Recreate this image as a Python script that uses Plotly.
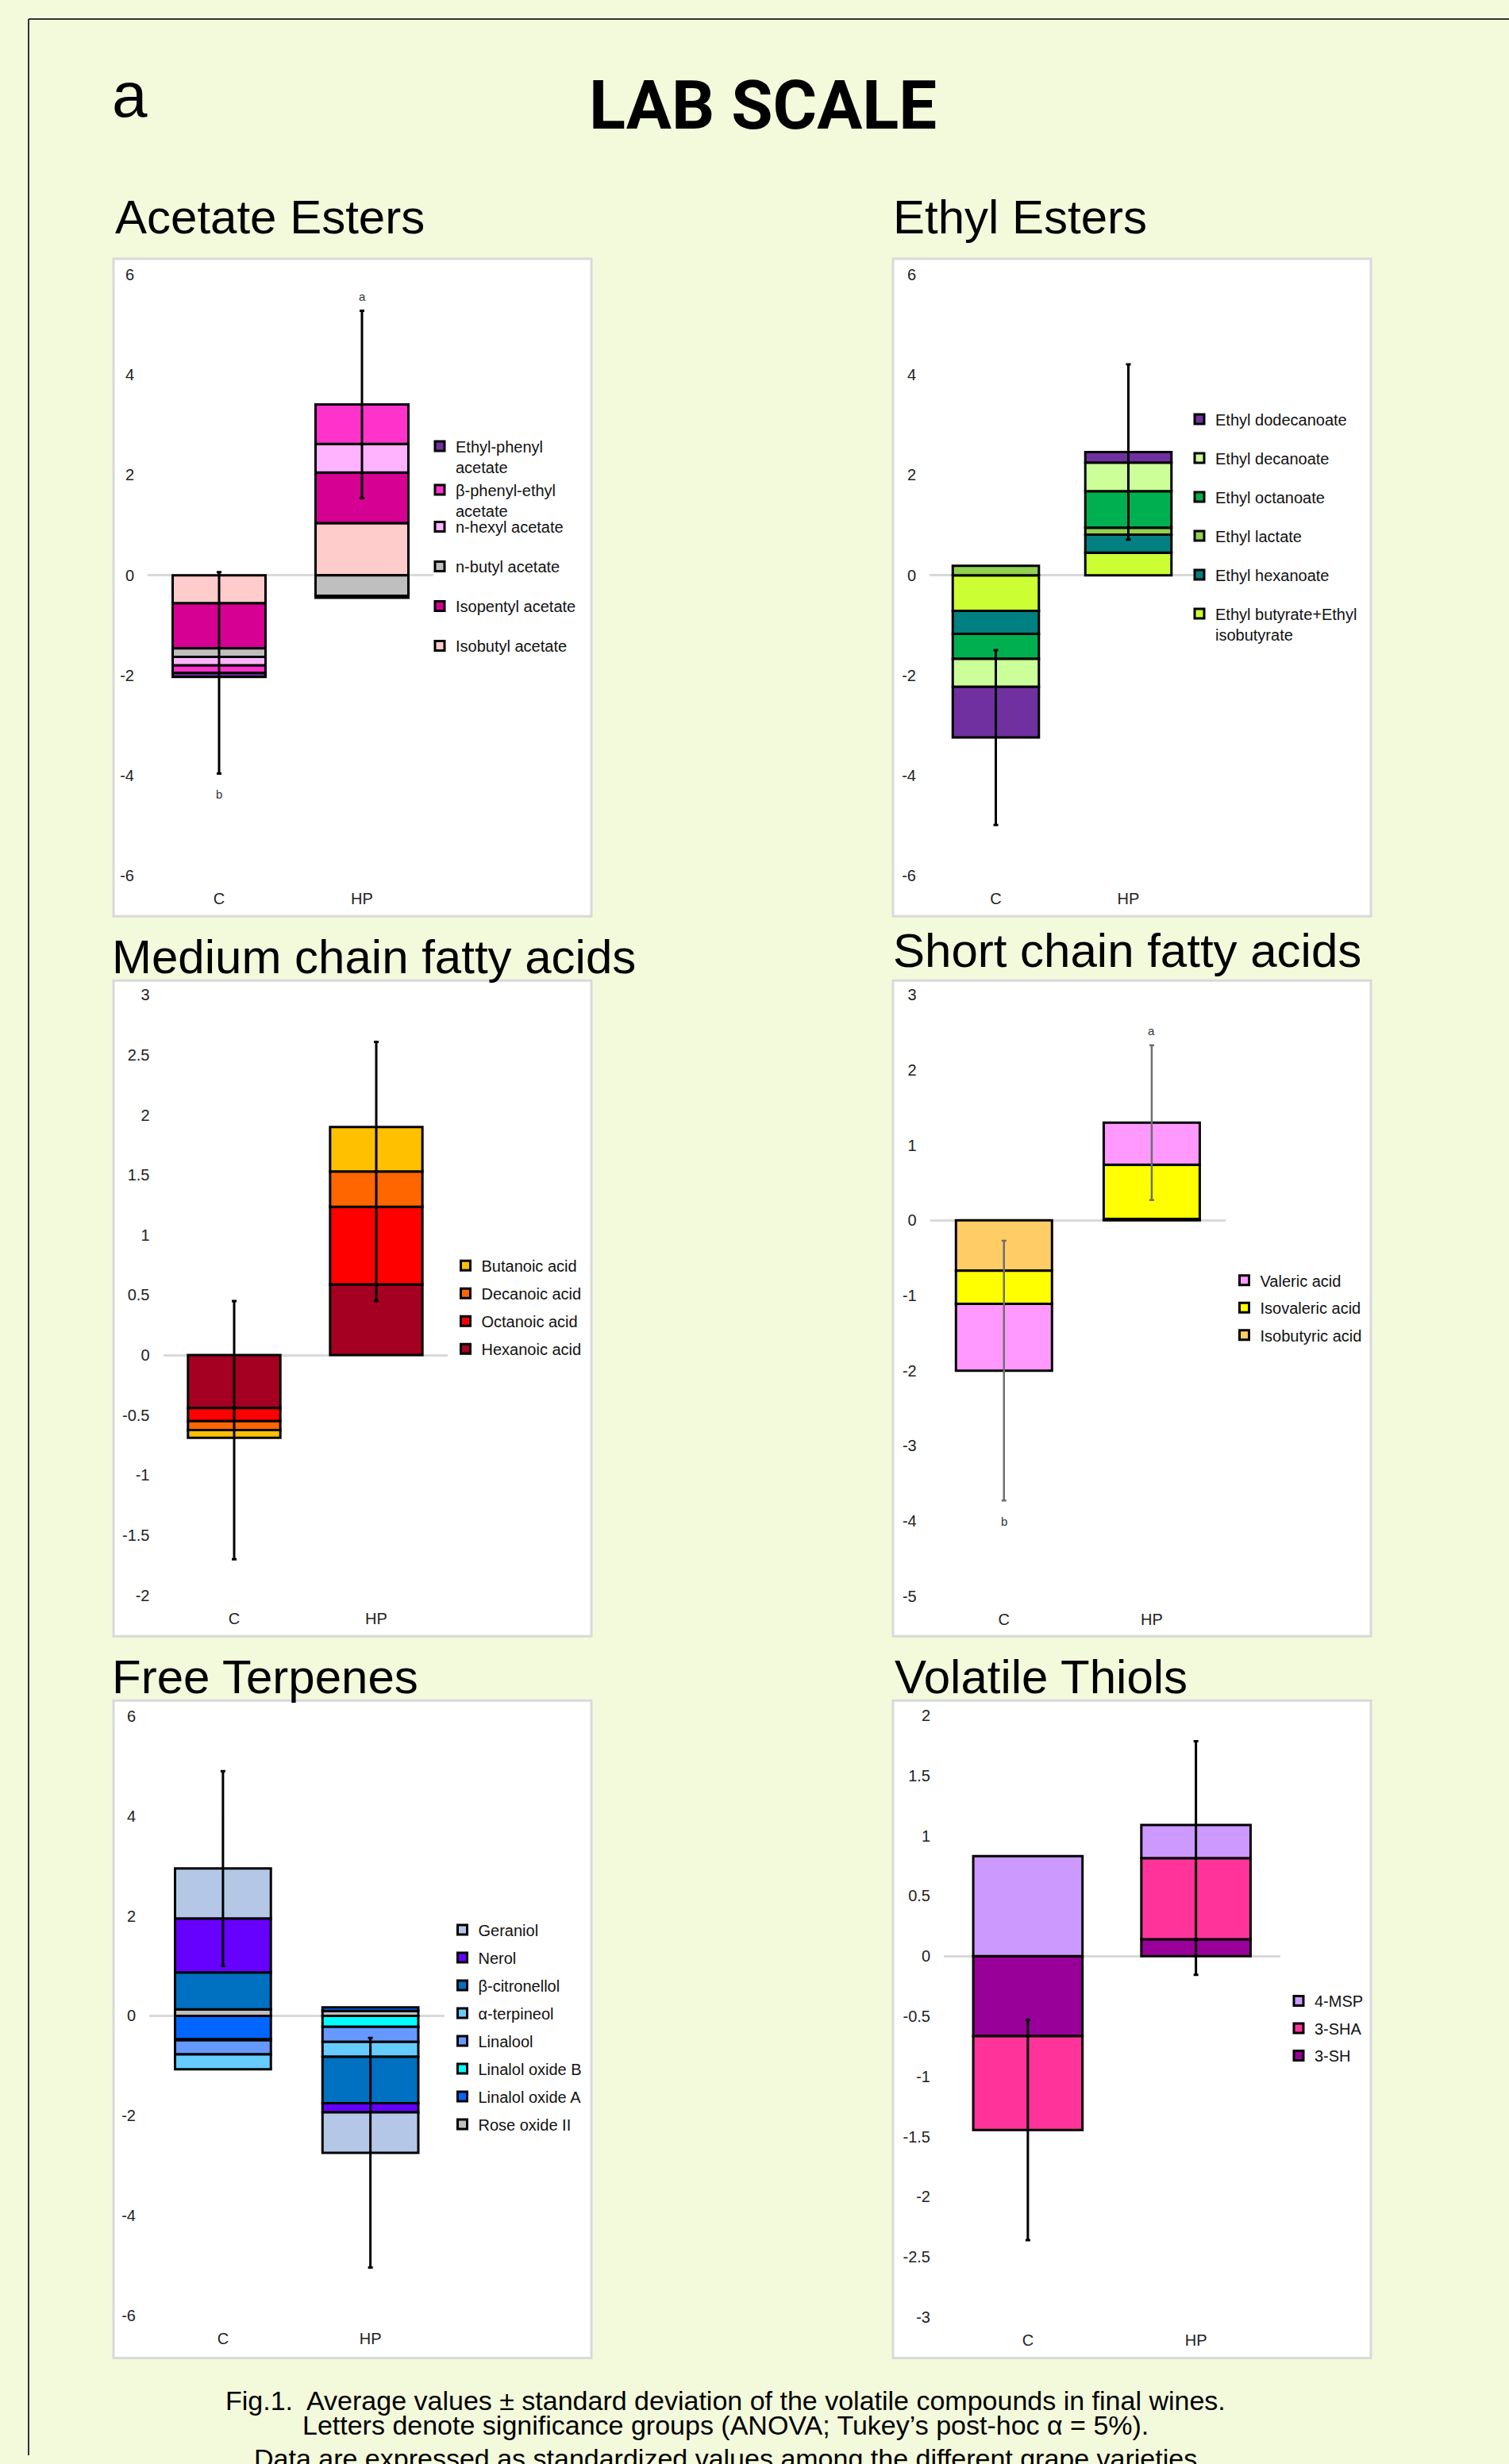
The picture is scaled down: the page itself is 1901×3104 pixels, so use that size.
import plotly.graph_objects as go

W, H = 1901, 3104
# the photographed page is squeezed vertically a little: observed_y = A * page_y + B
A, B = 0.99274, 12.0

categories = ["C", "HP"]

# ---------------- data (stacking order = bottom-up, legend shows reversed) ----------------
acetate_names = ["Isobutyl acetate", "Isopentyl acetate", "n-butyl acetate", "n-hexyl acetate",
                 "β-phenyl-ethyl<br>acetate", "Ethyl-phenyl<br>acetate"]
acetate_C = [-0.56, -0.90, -0.17, -0.17, -0.15, -0.08]
acetate_HP = [1.04, 1.01, -0.41, 0.57, 0.79, -0.04]
acetate_sd = [2.01, 1.87]
acetate_letters = ["b", "a"]

ethyl_names = ["Ethyl butyrate+Ethyl<br>isobutyrate", "Ethyl hexanoate", "Ethyl lactate",
               "Ethyl octanoate", "Ethyl decanoate", "Ethyl dodecanoate"]
ethyl_C = [-0.71, -0.46, 0.19, -0.50, -0.56, -1.01]
ethyl_HP = [0.45, 0.36, 0.14, 0.73, 0.57, 0.21]
ethyl_sd = [1.745, 1.75]

mcfa_names = ["Hexanoic acid", "Octanoic acid", "Decanoic acid", "Butanoic acid"]
mcfa_C = [-0.44, -0.11, -0.075, -0.064]
mcfa_HP = [0.59, 0.645, 0.295, 0.37]
mcfa_sd = [1.075, 1.08]

scfa_names = ["Isobutyric acid", "Isovaleric acid", "Valeric acid"]
scfa_C = [-0.67, -0.44, -0.89]
scfa_HP = [0.02, 0.72, 0.56]
scfa_sd = [1.73, 1.03]
scfa_letters = ["b", "a"]

terp_names = ["Rose oxide II", "Linalol oxide A", "Linalol oxide B", "Linalool",
              "α-terpineol", "β-citronellol", "Nerol", "Geraniol"]
terp_C = [0.13, -0.47, -0.02, -0.28, -0.30, 0.74, 1.08, 1.00]
terp_HP = [0.10, 0.07, -0.22, -0.30, -0.30, -0.93, -0.18, -0.81]
terp_sd = [1.95, 2.30]

thiol_names = ["3-SH", "3-SHA", "4-MSP"]
thiol_C = [-0.665, -0.78, 0.83]
thiol_HP = [0.14, 0.675, 0.275]
thiol_sd = [0.915, 0.97]

# ---------------- styles ----------------
acetate_colors = ["#FFCCCC", "#D60093", "#BFBFBF", "#FFB3FF", "#FF33CC", "#7030A0"]
ethyl_colors = ["#CCFF33", "#008080", "#92D050", "#00B050", "#CCFF99", "#7030A0"]
mcfa_colors = ["#A50021", "#FF0000", "#FF6600", "#FFC000"]
scfa_colors = ["#FFCC66", "#FFFF00", "#FF99FF"]
terp_colors = ["#BFBFBF", "#0066FF", "#00FFFF", "#6699FF", "#66CCFF", "#0070C0", "#6600FF", "#B4C7E7"]
thiol_colors = ["#990099", "#FF3399", "#CC99FF"]

FONT = "Liberation Sans, Arial, Helvetica, sans-serif"
TXT = "#222222"
BG = "#F3F9DB"


def px_x(p):
    return p / W


def px_y(p):
    return 1 - ((p - B) / A) / H


panels = [
    dict(title="Acetate Esters", title_xy=(143, 274), names=acetate_names, C=acetate_C, HP=acetate_HP,
         colors=acetate_colors, sd=acetate_sd, err_idx=4, letters=acetate_letters, yr=(-6, 6), dt=2,
         xdom=(186, 546), ydom=(347, 1104), box=(143, 327, 745, 1155), errcolor="black", errw=3,
         legends=[(534, 543.5, 0, [4, 5]), (534, 645, 21, [0, 1, 2, 3])]),
    dict(title="Ethyl Esters", title_xy=(1123, 274), names=ethyl_names, C=ethyl_C, HP=ethyl_HP,
         colors=ethyl_colors, sd=ethyl_sd, err_idx=5, letters=None, yr=(-6, 6), dt=2,
         xdom=(1171, 1505), ydom=(347, 1104), box=(1125, 327, 1727, 1155), errcolor="black", errw=3,
         legends=[(1491, 509.5, 20, [0, 1, 2, 3, 4, 5])]),
    dict(title="Medium chain fatty acids", title_xy=(139, 1206), names=mcfa_names, C=mcfa_C, HP=mcfa_HP,
         colors=mcfa_colors, sd=mcfa_sd, err_idx=2, letters=None, yr=(-2, 3), dt=0.5,
         xdom=(205.5, 563.5), ydom=(1254.2, 2010.2), box=(143, 1236, 745, 2062), errcolor="black", errw=3,
         legends=[(566.5, 1575.5, 6, [0, 1, 2, 3])]),
    dict(title="Short chain fatty acids", title_xy=(1123, 1198), names=scfa_names, C=scfa_C, HP=scfa_HP,
         colors=scfa_colors, sd=scfa_sd, err_idx=2, letters=scfa_letters, yr=(-5, 3), dt=1,
         xdom=(1171.7, 1544), ydom=(1254.2, 2011.2), box=(1125, 1236, 1727, 2062), errcolor="#6E6E6E", errw=2.5,
         legends=[(1547.5, 1594, 5.5, [0, 1, 2])]),
    dict(title="Free Terpenes", title_xy=(139, 2113), names=terp_names, C=terp_C, HP=terp_HP,
         colors=terp_colors, sd=terp_sd, err_idx=7, letters=None, yr=(-6, 6), dt=2,
         xdom=(188, 559.5), ydom=(2162.6, 2917.5), box=(143, 2143, 745, 2971), errcolor="black", errw=3,
         legends=[(562.5, 2412, 6, [0, 1, 2, 3, 4, 5, 6, 7])]),
    dict(title="Volatile Thiols", title_xy=(1125, 2113), names=thiol_names, C=thiol_C, HP=thiol_HP,
         colors=thiol_colors, sd=thiol_sd, err_idx=1, letters=None, yr=(-3, 2), dt=0.5,
         xdom=(1189, 1612.5), ydom=(2161.6, 2919.6), box=(1125, 2143, 1727, 2971), errcolor="black", errw=3,
         legends=[(1616, 2501.5, 5.5, [0, 1, 2])]),
]

fig = go.Figure()
shapes = []
annotations = []
layout = {}

# pale green poster background with dark top/left border
shapes.append(dict(type="rect", xref="paper", yref="paper", x0=px_x(36), x1=1.0, y0=0.0, y1=px_y(25),
                   fillcolor=BG, line=dict(width=0), layer="below"))
shapes.append(dict(type="line", xref="paper", yref="paper", x0=px_x(36), x1=1.0, y0=px_y(25), y1=px_y(25),
                   line=dict(color="#333333", width=2), layer="below"))
shapes.append(dict(type="line", xref="paper", yref="paper", x0=px_x(36), x1=px_x(36), y0=0.0, y1=px_y(25),
                   line=dict(color="#333333", width=2), layer="below"))

annotations.append(dict(text="a", xref="paper", yref="paper", x=px_x(139), y=px_y(120), xanchor="left",
                        yanchor="middle", showarrow=False, font=dict(family=FONT, size=80, color="black")))
annotations.append(dict(text="<b>LAB SCALE</b>", xref="paper", yref="paper", x=px_x(961), y=px_y(134),
                        xanchor="center", yanchor="middle", showarrow=False,
                        font=dict(family="Roboto, " + FONT, size=85, color="black")))

legend_count = 0
for pi, p in enumerate(panels):
    n = pi + 1
    xa = "x" if n == 1 else f"x{n}"
    ya = "y" if n == 1 else f"y{n}"
    xkey = "xaxis" if n == 1 else f"xaxis{n}"
    ykey = "yaxis" if n == 1 else f"yaxis{n}"

    # panel box
    bx0, by0, bx1, by1 = p["box"]
    shapes.append(dict(type="rect", xref="paper", yref="paper", x0=px_x(bx0), x1=px_x(bx1),
                       y0=px_y(by1), y1=px_y(by0), fillcolor="white",
                       line=dict(color="#D9D9D9", width=3), layer="below"))
    # panel title
    tx, ty = p["title_xy"]
    annotations.append(dict(text=p["title"], xref="paper", yref="paper", x=px_x(tx), y=px_y(ty),
                            xanchor="left", yanchor="middle", showarrow=False,
                            font=dict(family=FONT, size=60, color="black")))

    # legend assignment (legend lists the top of the stack first)
    trace_legend = {}
    for (lx, ltop, gap, items) in p["legends"]:
        legend_count += 1
        lid = "legend" if legend_count == 1 else f"legend{legend_count}"
        for it in items:
            trace_legend[it] = lid
        layout[lid] = dict(x=px_x(lx), y=px_y(ltop), xanchor="left", yanchor="top",
                           traceorder="grouped", tracegroupgap=gap, valign="top",
                           bgcolor="rgba(0,0,0,0)", borderwidth=0,
                           font=dict(family=FONT, size=20, color="#111111"))

    nser = len(p["names"])
    for k, name in enumerate(p["names"]):
        fig.add_trace(go.Bar(
            x=categories, y=[p["C"][k], p["HP"][k]], name=name,
            marker=dict(color=p["colors"][k], line=dict(color="black", width=3)),
            xaxis=xa, yaxis=ya, legend=trace_legend[k], legendgroup=f"p{n}_{k}",
            legendrank=100 + (nser - k), hoverinfo="name+y"))

    # error bars attached to the end of the chosen series segment
    k = p["err_idx"]
    centers = []
    for i, cat in enumerate(categories):
        vals = [p["C"], p["HP"]][i]
        v = vals[k]
        s = sum(vals[j] for j in range(k + 1) if (vals[j] >= 0) == (v >= 0))
        centers.append(s)
    fig.add_trace(go.Scatter(
        x=categories, y=centers, mode="markers", marker=dict(size=1, opacity=0),
        error_y=dict(type="data", array=p["sd"], visible=True, color=p["errcolor"],
                     thickness=p["errw"], width=3),
        xaxis=xa, yaxis=ya, showlegend=False, hoverinfo="skip"))

    if p["letters"]:
        for i, cat in enumerate(categories):
            c = centers[i]
            if c >= 0:
                yv, shift = c + p["sd"][i], 18
            else:
                yv, shift = c - p["sd"][i], -26
            annotations.append(dict(text=p["letters"][i], xref=xa, yref=ya, x=cat, y=yv, yshift=shift,
                                    showarrow=False, font=dict(family=FONT, size=15, color="#333333")))

    lo, hi = p["yr"]
    nt = int(round((hi - lo) / p["dt"]))
    tvals = [lo + j * p["dt"] for j in range(nt + 1)]
    ttext = [f"{round(v, 2) + 0.0:g}" for v in tvals]

    layout[xkey] = dict(domain=[px_x(p["xdom"][0]), px_x(p["xdom"][1])], anchor=ya,
                        type="category", categoryorder="array", categoryarray=categories,
                        range=[-0.5, 1.5], showgrid=False, showline=False, zeroline=False,
                        ticks="", ticklabelstandoff=15, fixedrange=True,
                        tickfont=dict(family=FONT, size=20, color=TXT))
    layout[ykey] = dict(domain=[px_y(p["ydom"][1]), px_y(p["ydom"][0])], anchor=xa,
                        range=[lo, hi], tickmode="array", tickvals=tvals, ticktext=ttext,
                        showgrid=False, showline=False, zeroline=True, zerolinecolor="#D9D9D9",
                        zerolinewidth=3, layer="above traces", ticks="", ticklabelstandoff=16,
                        fixedrange=True, tickfont=dict(family=FONT, size=20, color=TXT))

# caption
caption_lines = [
    ("Fig.1.  Average values ± standard deviation of the volatile compounds in final wines.", 3024),
    ("Letters denote significance groups (ANOVA; Tukey’s post-hoc α = 5%).", 3055),
    ("Data are expressed as standardized values among the different grape varieties", 3097),
]
for txt, yy in caption_lines:
    annotations.append(dict(text=txt, xref="paper", yref="paper", x=px_x(914), y=px_y(yy),
                            xanchor="center", yanchor="middle", showarrow=False,
                            font=dict(family=FONT, size=34, color="black")))

fig.update_layout(
    width=W, height=H, margin=dict(l=0, r=0, t=0, b=0, pad=0),
    paper_bgcolor=BG, plot_bgcolor="rgba(0,0,0,0)",
    barmode="relative", bargap=0.35, showlegend=True,
    shapes=shapes, annotations=annotations,
    font=dict(family=FONT, color=TXT),
    **layout,
)

fig.write_html("out.html", config={"displayModeBar": False},
               post_script="document.body.style.margin='0';document.body.style.background='%s';" % BG)
